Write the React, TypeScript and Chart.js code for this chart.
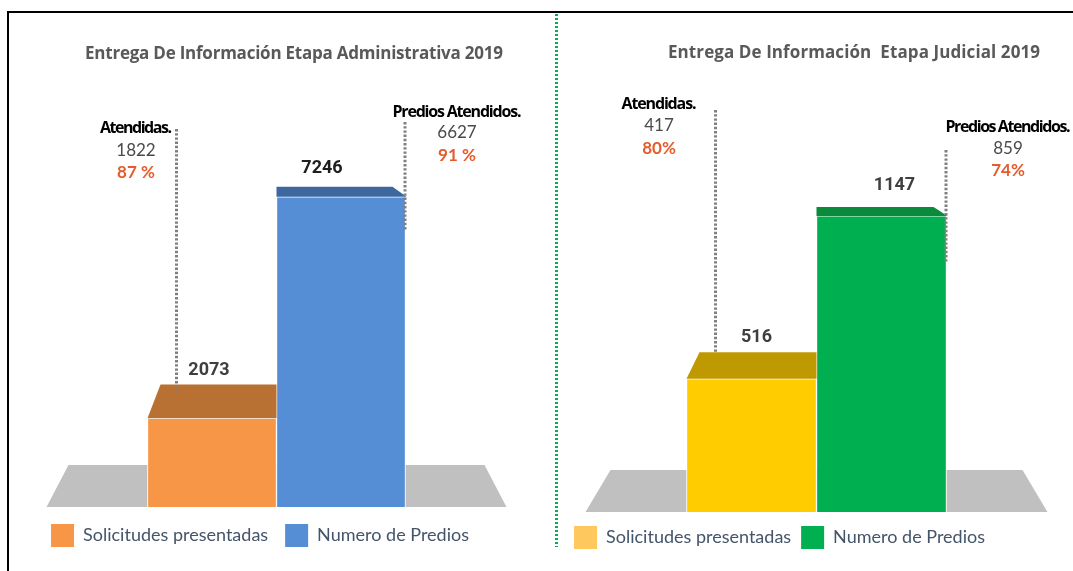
import React, { useEffect, useRef } from 'react';
import { Chart, registerables } from 'chart.js';
Chart.register(...registerables);

// ---------- data ----------
const categories = ['2019'];
const seriesLabels = ['Solicitudes presentadas', 'Numero de Predios'];
const chartTitles = [
  'Entrega De Información Etapa Administrativa 2019',
  'Entrega De Información  Etapa Judicial 2019',
];
const attendedTitles = ['Atendidas.', 'Predios Atendidos.'];

const adminValues = [2073, 7246];
const adminAttended = [1822, 6627];
const adminAttendedPct = [87, 91];

const judicialValues = [516, 1147];
const judicialAttended = [417, 859];
const judicialAttendedPct = [80, 74];

// ---------- helpers ----------
function drawText(ctx: CanvasRenderingContext2D, text: string, cx: number, cy: number, font: string, color: string, fitWidth?: number) {
  ctx.save();
  ctx.font = font;
  ctx.fillStyle = color;
  ctx.textBaseline = 'middle';
  ctx.textAlign = 'left';
  let ls = 0;
  if (fitWidth) {
    const m = ctx.measureText(text).width;
    ls = (fitWidth - m) / Math.max(1, text.length - 1);
    ls = Math.max(-2, Math.min(4, ls));
    (ctx as any).letterSpacing = ls.toFixed(2) + 'px';
  }
  const w = ctx.measureText(text).width - ls;
  ctx.fillText(text, cx - w / 2, cy);
  ctx.restore();
}

function makeDeco(p: any) {
  return {
    id: 'deco',
    beforeDatasetsDraw(chart: any) {
      const ctx = chart.ctx as CanvasRenderingContext2D;
      const e0 = chart.getDatasetMeta(0).data[0];
      const e1 = chart.getDatasetMeta(1).data[0];
      const left = e0.x - e0.width / 2;
      const right = e1.x + e1.width / 2;
      const base = chart.scales.y.getPixelForValue(0);
      const f = p.floor;
      ctx.save();
      ctx.fillStyle = f.color;
      ctx.beginPath();
      ctx.moveTo(left - f.bottomExt, base);
      ctx.lineTo(left - f.topExt, base - f.depth);
      ctx.lineTo(right + f.topExt, base - f.depth);
      ctx.lineTo(right + f.bottomExt, base);
      ctx.closePath();
      ctx.fill();
      ctx.restore();
    },
    afterDatasetsDraw(chart: any) {
      const ctx = chart.ctx as CanvasRenderingContext2D;
      const yScale = chart.scales.y;
      const base = yScale.getPixelForValue(0);
      const horizon = base - p.horizonAbove;
      const els = [chart.getDatasetMeta(0).data[0], chart.getDatasetMeta(1).data[0]];
      const capTops: number[] = [];
      els.forEach((e: any, i: number) => {
        const l = e.x - e.width / 2;
        const r = e.x + e.width / 2;
        const t = e.y;
        const h = p.capK * (t - horizon);
        capTops.push(t - h);
        ctx.save();
        ctx.fillStyle = p.capColors[i];
        ctx.beginPath();
        if (i === 0) {
          ctx.moveTo(l, t);
          ctx.lineTo(l + p.inset, t - h);
          ctx.lineTo(r, t - h);
          ctx.lineTo(r, t);
        } else {
          ctx.moveTo(l, t);
          ctx.lineTo(l, t - h);
          ctx.lineTo(r - p.inset, t - h);
          ctx.lineTo(r + 1, t);
        }
        ctx.closePath();
        ctx.fill();
        ctx.restore();
        drawText(ctx, String(p.values[i]), e.x + p.labelDx[i], t - h - p.labelGap[i], 'bold 18px Roboto', p.labelColors[i]);
      });

      // annotations
      p.ann.forEach((a: any, i: number) => {
        const e = els[i];
        const lx = i === 0 ? e.x - e.width / 2 + p.ann0LineDx : e.x + e.width / 2 - 0.5;
        const lb = i === 0 ? capTops[0] + a.lineEndOffset : a.lineBottom;
        ctx.save();
        ctx.strokeStyle = '#808080';
        ctx.lineWidth = 3;
        ctx.setLineDash([2.4, 1.8]);
        ctx.beginPath();
        ctx.moveTo(lx, a.lineTop);
        ctx.lineTo(lx, lb);
        ctx.stroke();
        ctx.restore();
        drawText(ctx, attendedTitles[i], a.textX, a.ys[0], 'bold 16px "Open Sans"', '#000000', a.titleW);
        drawText(ctx, String(p.attended[i]), a.textX, a.ys[1], '17px Lato', '#4a4a4a');
        drawText(ctx, p.pct[i] + p.pctSep + '%', a.textX, a.ys[2], 'bold 17px Lato', '#E55B2B');
      });

      // title
      drawText(ctx, p.title.text, p.title.x, p.title.y, 'bold 17px "Open Sans"', '#595959', p.title.w);
    },
  };
}

function makeConfig(p: any): any {
  return {
    type: 'bar',
    data: {
      labels: categories,
      datasets: seriesLabels.map((lab, i) => ({
        label: lab,
        data: [p.values[i]],
        backgroundColor: p.colors[i],
        borderColor: '#ffffff',
        borderWidth: 1,
        borderSkipped: 'start',
        barThickness: p.barThickness,
      })),
    },
    options: {
      responsive: false,
      animation: false,
      events: [],
      layout: { padding: p.padding },
      scales: {
        x: {
          display: true,
          ticks: { display: false },
          grid: { display: false },
          border: { display: false },
          afterFit: (s: any) => { s.height = p.xAxisHeight; },
        },
        y: {
          display: true,
          min: 0,
          max: p.yMax,
          ticks: { display: false },
          grid: { display: false },
          border: { display: false },
          afterFit: (s: any) => { s.width = p.yAxisWidth; },
        },
      },
      plugins: {
        tooltip: { enabled: false },
        title: { display: false },
        legend: {
          display: true,
          position: 'bottom',
          align: 'center',
          labels: {
            boxWidth: 23,
            boxHeight: 23,
            padding: p.legendGap,
            color: '#44546A',
            font: { family: 'Lato', size: 18 },
            generateLabels: (chart: any) => {
              const items = (Chart as any).defaults.plugins.legend.labels.generateLabels(chart);
              return items.map((it: any, i: number) => ({
                ...it,
                fillStyle: p.legendColors[i],
                strokeStyle: p.legendColors[i],
                lineWidth: 0,
              }));
            },
          },
        },
      },
    },
    plugins: [makeDeco(p)],
  };
}

const leftParams = {
  values: adminValues,
  attended: adminAttended,
  pct: adminAttendedPct,
  pctSep: ' ',
  colors: ['#F79646', '#558ED5'],
  capColors: ['#B87033', '#3C689F'],
  legendColors: ['#F79646', '#558ED5'],
  labelColors: ['#3F3F3F', '#1E1E1E'],
  yMax: 10000,
  barThickness: 129,
  padding: { top: 67, bottom: 14, left: 0, right: 44 },
  yAxisWidth: 33,
  xAxisHeight: 0,
  legendGap: 17,
  floor: { color: '#C0C0C0', bottomExt: 101, topExt: 79, depth: 42 },
  horizonAbove: 404,
  capK: 0.107,
  inset: 13,
  labelDx: [-3, -19],
  labelGap: [14, 18],
  ann0LineDx: 29,
  ann: [
    { textX: 128, ys: [116, 139, 161], lineTop: 117, lineEndOffset: 7, titleW: 72 },
    { textX: 449, ys: [100, 121, 144], lineTop: 110, lineBottom: 218, titleW: 129 },
  ],
  title: { text: chartTitles[0], x: 286, y: 42, w: 418 },
};

const rightParams = {
  values: judicialValues,
  attended: judicialAttended,
  pct: judicialAttendedPct,
  pctSep: '',
  colors: ['#FFCC00', '#00B050'],
  capColors: ['#BF9900', '#0B8A3C'],
  legendColors: ['#FFC85F', '#00B050'],
  labelColors: ['#3F3F3F', '#3F3F3F'],
  yMax: 1600,
  barThickness: 130,
  padding: { top: 87, bottom: 12, left: 0, right: 73 },
  yAxisWidth: 74,
  xAxisHeight: 4,
  legendGap: 10,
  floor: { color: '#C0C0C0', bottomExt: 101, topExt: 76, depth: 42 },
  horizonAbove: 379,
  capK: 0.108,
  inset: 13,
  labelDx: [5, 13],
  labelGap: [15, 21],
  ann0LineDx: 29,
  ann: [
    { textX: 100, ys: [92, 114, 137], lineTop: 98, lineEndOffset: 1, titleW: 75 },
    { textX: 449, ys: [115, 137, 159], lineTop: 138, lineBottom: 250, titleW: 125 },
  ],
  title: { text: chartTitles[1], x: 295, y: 41, w: 372 },
};

function ChartCanvas({ params, left, width }: { params: any; left: number; width: number }) {
  const ref = useRef<HTMLCanvasElement | null>(null);
  useEffect(() => {
    if (!ref.current) return;
    const chart = new Chart(ref.current, makeConfig(params));
    return () => chart.destroy();
  }, [params]);
  return (
    <canvas
      ref={ref}
      width={width}
      height={559}
      style={{ position: 'absolute', left, top: 12, width, height: 559 }}
    />
  );
}

export default function App() {
  return (
    <div style={{ position: 'absolute', left: 0, top: 0, width: 1073, height: 571, overflow: 'hidden', background: '#ffffff' }}>
      <ChartCanvas params={leftParams} left={8} width={548} />
      <ChartCanvas params={rightParams} left={559} width={514} />
      <div style={{ position: 'absolute', left: 7, top: 11, width: 1200, height: 800, border: '2px solid #000', boxSizing: 'border-box', pointerEvents: 'none' }} />
      <div
        style={{
          position: 'absolute',
          left: 555,
          top: 14,
          width: 3,
          height: 533,
          background: 'repeating-linear-gradient(to bottom, #00B050 0px, #00B050 2.5px, transparent 2.5px, transparent 4px)',
        }}
      />
    </div>
  );
}
